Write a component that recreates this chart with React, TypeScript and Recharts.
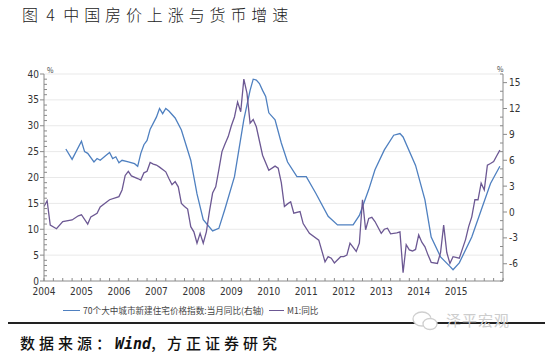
import React from 'react';
import { LineChart, Line, XAxis, YAxis, ReferenceLine } from 'recharts';

// months since Jan 2004 and values
const m1Months = [0, 1, 2, 4, 6, 9, 11, 12, 14, 15, 17, 18, 21, 24, 25, 26, 27, 28, 30, 31, 32, 33, 34, 35, 36, 37, 39, 40, 41, 42, 43, 44, 45, 46, 47, 48, 49, 50, 51, 52, 53, 54, 55, 56, 57, 58, 59, 60, 61, 62, 63, 64, 65, 66, 67, 68, 70, 72, 74, 75, 76, 77, 78, 79, 80, 82, 83, 85, 88, 90, 91, 92, 93, 95, 96, 97, 98, 100, 101, 102, 103, 104, 105, 106, 108, 109, 110, 111, 113, 114, 115, 116, 117, 118, 119, 120, 121, 122, 123, 124, 126, 127, 128, 129, 130, 131, 133, 134, 135, 136, 137, 138, 139, 140, 141, 142, 143, 144, 145, 146];
const m1Values = [14.4, 15.5, 10.8, 10.1, 11.5, 11.8, 12.6, 12.8, 11.0, 12.4, 13.1, 14.3, 15.7, 16.3, 17.6, 20.4, 21.2, 20.3, 19.8, 19.5, 20.9, 21.2, 22.9, 22.6, 22.4, 22.0, 21.1, 19.8, 18.6, 19.2, 18.2, 15.0, 14.4, 13.9, 10.5, 9.5, 7.3, 9.2, 7.3, 9.5, 13.5, 17.0, 18.2, 21.5, 25.0, 26.5, 27.9, 30.0, 31.7, 34.6, 32.7, 39.0, 36.3, 30.5, 31.2, 29.8, 24.3, 21.4, 22.2, 21.8, 19.0, 14.4, 14.9, 15.3, 13.1, 13.4, 11.1, 9.2, 7.9, 3.7, 4.7, 4.4, 3.5, 4.7, 4.7, 5.0, 7.3, 5.7, 7.3, 15.7, 9.9, 12.1, 12.3, 11.5, 9.2, 10.0, 10.2, 9.1, 9.3, 9.5, 1.6, 7.0, 6.0, 5.8, 6.1, 8.9, 7.5, 6.6, 5.0, 3.6, 3.4, 5.5, 10.8, 5.5, 3.4, 4.7, 4.4, 6.2, 8.0, 10.5, 12.4, 15.7, 15.7, 18.9, 17.6, 22.4, 22.7, 23.1, 24.2, 25.3];

const priceMonths = [7, 9, 12, 13, 14, 16, 17, 18, 20, 21, 22, 23, 24, 25, 27, 29, 30, 31, 32, 33, 34, 36, 37, 38, 39, 40, 42, 44, 47, 49, 51, 54, 56, 58, 61, 64, 66, 67, 68, 69, 70, 71, 72, 74, 76, 78, 81, 84, 87, 91, 94, 96, 99, 101, 104, 106, 109, 112, 114, 115, 119, 122, 124, 127, 130, 131, 133, 137, 140, 143, 146];
const priceValues = [7.3, 6.1, 8.2, 7.0, 6.8, 5.8, 6.2, 6.0, 6.6, 6.9, 6.2, 6.4, 5.7, 6.0, 5.8, 5.6, 5.3, 6.8, 7.8, 8.3, 9.6, 11.0, 12.0, 11.4, 12.0, 11.7, 10.9, 9.5, 6.0, 2.1, -0.9, -2.2, -1.9, 0.4, 4.1, 10.7, 14.1, 15.4, 15.3, 14.9, 14.1, 13.4, 11.5, 10.7, 8.0, 5.8, 4.1, 4.1, 2.2, -0.5, -1.5, -1.5, -1.5, -0.4, 2.6, 4.9, 7.2, 8.9, 9.1, 8.7, 5.4, 1.4, -2.9, -5.2, -6.3, -6.7, -5.9, -2.9, 0.2, 3.3, 5.3];

const yearLabels = ['2004', '2005', '2006', '2007', '2008', '2009', '2010', '2011', '2012', '2013', '2014', '2015'];
const leftTicks = Array.from({ length: 41 }, (_, i) => i);
const rightTicks = Array.from({ length: 25 }, (_, i) => i - 8);
const xTicks = Array.from({ length: 50 }, (_, i) => i * 3);
const gridValues = [5, 10, 15, 20, 25, 30, 35, 40];

const seriesPriceName = '70个大中城市新建住宅价格指数:当月同比(右轴)';
const seriesM1Name = 'M1:同比';

const tableMap = new Map<number, any>();
m1Months.forEach((m, i) => {
  const r = tableMap.get(m) || { m };
  r.m1 = m1Values[i];
  tableMap.set(m, r);
});
priceMonths.forEach((m, i) => {
  const r = tableMap.get(m) || { m };
  r.price = priceValues[i];
  tableMap.set(m, r);
});
const table = Array.from(tableMap.values()).sort((a, b) => a.m - b.m);

const BLUE = '#4f80c0';
const PURPLE = '#6c5893';
const AXIS = '#8a8a8a';
const TICK_FONT = "'Liberation Sans Narrow', 'DejaVu Sans Condensed', 'Open Sans', sans-serif";

const XTick = (props: any) => {
  const { x, y, payload } = props;
  const v = payload.value;
  const isYear = v % 12 === 0 && v / 12 < yearLabels.length;
  return (
    <g>
      <line x1={x} y1={y} x2={x} y2={y - 3} stroke={AXIS} strokeWidth={1} />
      {isYear && (
        <text x={x} y={y + 14} textAnchor="middle" fontSize={10} fontFamily={TICK_FONT} fill="#333">
          {yearLabels[v / 12]}
        </text>
      )}
    </g>
  );
};

const LeftTick = (props: any) => {
  const { x, y, payload } = props;
  const v = payload.value;
  const major = v % 5 === 0;
  return (
    <g>
      {major ? (
        <line x1={x - 4} y1={y} x2={x} y2={y} stroke={AXIS} />
      ) : (
        <line x1={x} y1={y} x2={x + 3} y2={y} stroke={AXIS} />
      )}
      {major && (
        <text x={x - 5} y={y + 3.5} textAnchor="end" fontSize={10} fontFamily={TICK_FONT} fill="#333">
          {v}
        </text>
      )}
    </g>
  );
};

const RightTick = (props: any) => {
  const { x, y, payload } = props;
  const v = payload.value;
  const major = v % 3 === 0 && v >= -6 && v <= 15;
  return (
    <g>
      {major ? (
        <line x1={x} y1={y} x2={x + 4} y2={y} stroke={AXIS} />
      ) : (
        <line x1={x - 3} y1={y} x2={x} y2={y} stroke={AXIS} />
      )}
      {major && (
        <text x={x + 6} y={y + 3.5} textAnchor="start" fontSize={10} fontFamily={TICK_FONT} fill="#333">
          {v}
        </text>
      )}
    </g>
  );
};

export default function App() {
  return (
    <div
      style={{
        position: 'absolute',
        left: 0,
        top: 0,
        width: 550,
        height: 358,
        background: '#fff',
        overflow: 'hidden',
        fontFamily: "'Noto Sans CJK SC', sans-serif",
      }}
    >
      <div
        style={{
          position: 'absolute',
          left: 22,
          top: 3,
          fontSize: 16,
          fontWeight: 300,
          letterSpacing: 4.9,
          wordSpacing: -5,
          color: '#222',
          whiteSpace: 'nowrap',
          lineHeight: '22px',
        }}
      >
        图 4 中国房价上涨与货币增速
      </div>

      <div style={{ position: 'absolute', left: 0, top: 0 }}>
        <LineChart width={550} height={305} data={table} margin={{ top: 74, right: 17, left: 14, bottom: 4 }}>
          {gridValues.map((g) => (
            <ReferenceLine key={g} yAxisId="left" y={g} stroke="#e9e9e9" strokeWidth={1} />
          ))}
          <XAxis
            dataKey="m"
            type="number"
            domain={[0, 147]}
            ticks={xTicks}
            interval={0}
            tickLine={false}
            tickSize={0}
            tickMargin={0}
            axisLine={{ stroke: AXIS }}
            tick={<XTick />}
            height={20}
            allowDataOverflow
          />
          <YAxis
            yAxisId="left"
            domain={[0, 40]}
            ticks={leftTicks}
            interval={0}
            tickLine={false}
            tickSize={0}
            tickMargin={0}
            axisLine={{ stroke: AXIS }}
            tick={<LeftTick />}
            width={30}
            allowDataOverflow
          />
          <YAxis
            yAxisId="right"
            orientation="right"
            domain={[-8, 16]}
            ticks={rightTicks}
            interval={0}
            tickLine={false}
            tickSize={0}
            tickMargin={0}
            axisLine={{ stroke: AXIS }}
            tick={<RightTick />}
            width={30}
            allowDataOverflow
          />
          <Line
            yAxisId="right"
            dataKey="price"
            name={seriesPriceName}
            type="linear"
            stroke={BLUE}
            strokeWidth={1.3}
            dot={false}
            connectNulls
            isAnimationActive={false}
          />
          <Line
            yAxisId="left"
            dataKey="m1"
            name={seriesM1Name}
            type="linear"
            stroke={PURPLE}
            strokeWidth={1.3}
            dot={false}
            connectNulls
            isAnimationActive={false}
          />
        </LineChart>
      </div>

      <div style={{ position: 'absolute', left: 47, top: 65, fontSize: 7, color: '#444' }}>%</div>
      <div style={{ position: 'absolute', left: 497, top: 64, fontSize: 7, color: '#444' }}>%</div>

      <div
        style={{
          position: 'absolute',
          left: 63,
          top: 303,
          display: 'flex',
          alignItems: 'center',
          fontSize: 8.6,
          color: '#444',
          whiteSpace: 'nowrap',
          lineHeight: '14px',
        }}
      >
        <span style={{ display: 'inline-block', width: 17, height: 0, borderTop: `1.3px solid ${BLUE}`, marginRight: 3 }} />
        <span>{seriesPriceName}</span>
        <span style={{ display: 'inline-block', width: 15, height: 0, borderTop: `1.3px solid ${PURPLE}`, marginLeft: 5, marginRight: 3 }} />
        <span>{seriesM1Name}</span>
      </div>

      <div style={{ position: 'absolute', left: 8, top: 322, width: 537, height: 2, background: '#222' }} />

      <svg style={{ position: 'absolute', left: 410, top: 309 }} width={32} height={24}>
        <ellipse cx={12} cy={10} rx={9} ry={7} fill="#fff" stroke="#cfcfcf" strokeWidth={1.3} />
        <ellipse cx={20} cy={15} rx={7} ry={5.5} fill="#fff" stroke="#cfcfcf" strokeWidth={1.3} />
      </svg>
      <div
        style={{
          position: 'absolute',
          left: 446,
          top: 310,
          fontSize: 15,
          color: '#cdcdcd',
          letterSpacing: 1,
          whiteSpace: 'nowrap',
          lineHeight: '20px',
        }}
      >
        泽平宏观
      </div>

      <div
        style={{
          position: 'absolute',
          left: 20,
          top: 333,
          fontSize: 15,
          letterSpacing: 4,
          color: '#111',
          fontWeight: 500,
          whiteSpace: 'nowrap',
          lineHeight: '20px',
        }}
      >
        数据来源：
        <span style={{ fontStyle: 'italic', fontWeight: 700, fontFamily: "'DejaVu Sans Mono', monospace", letterSpacing: 0 }}>Wind</span>
        , 方正证券研究
      </div>
    </div>
  );
}
